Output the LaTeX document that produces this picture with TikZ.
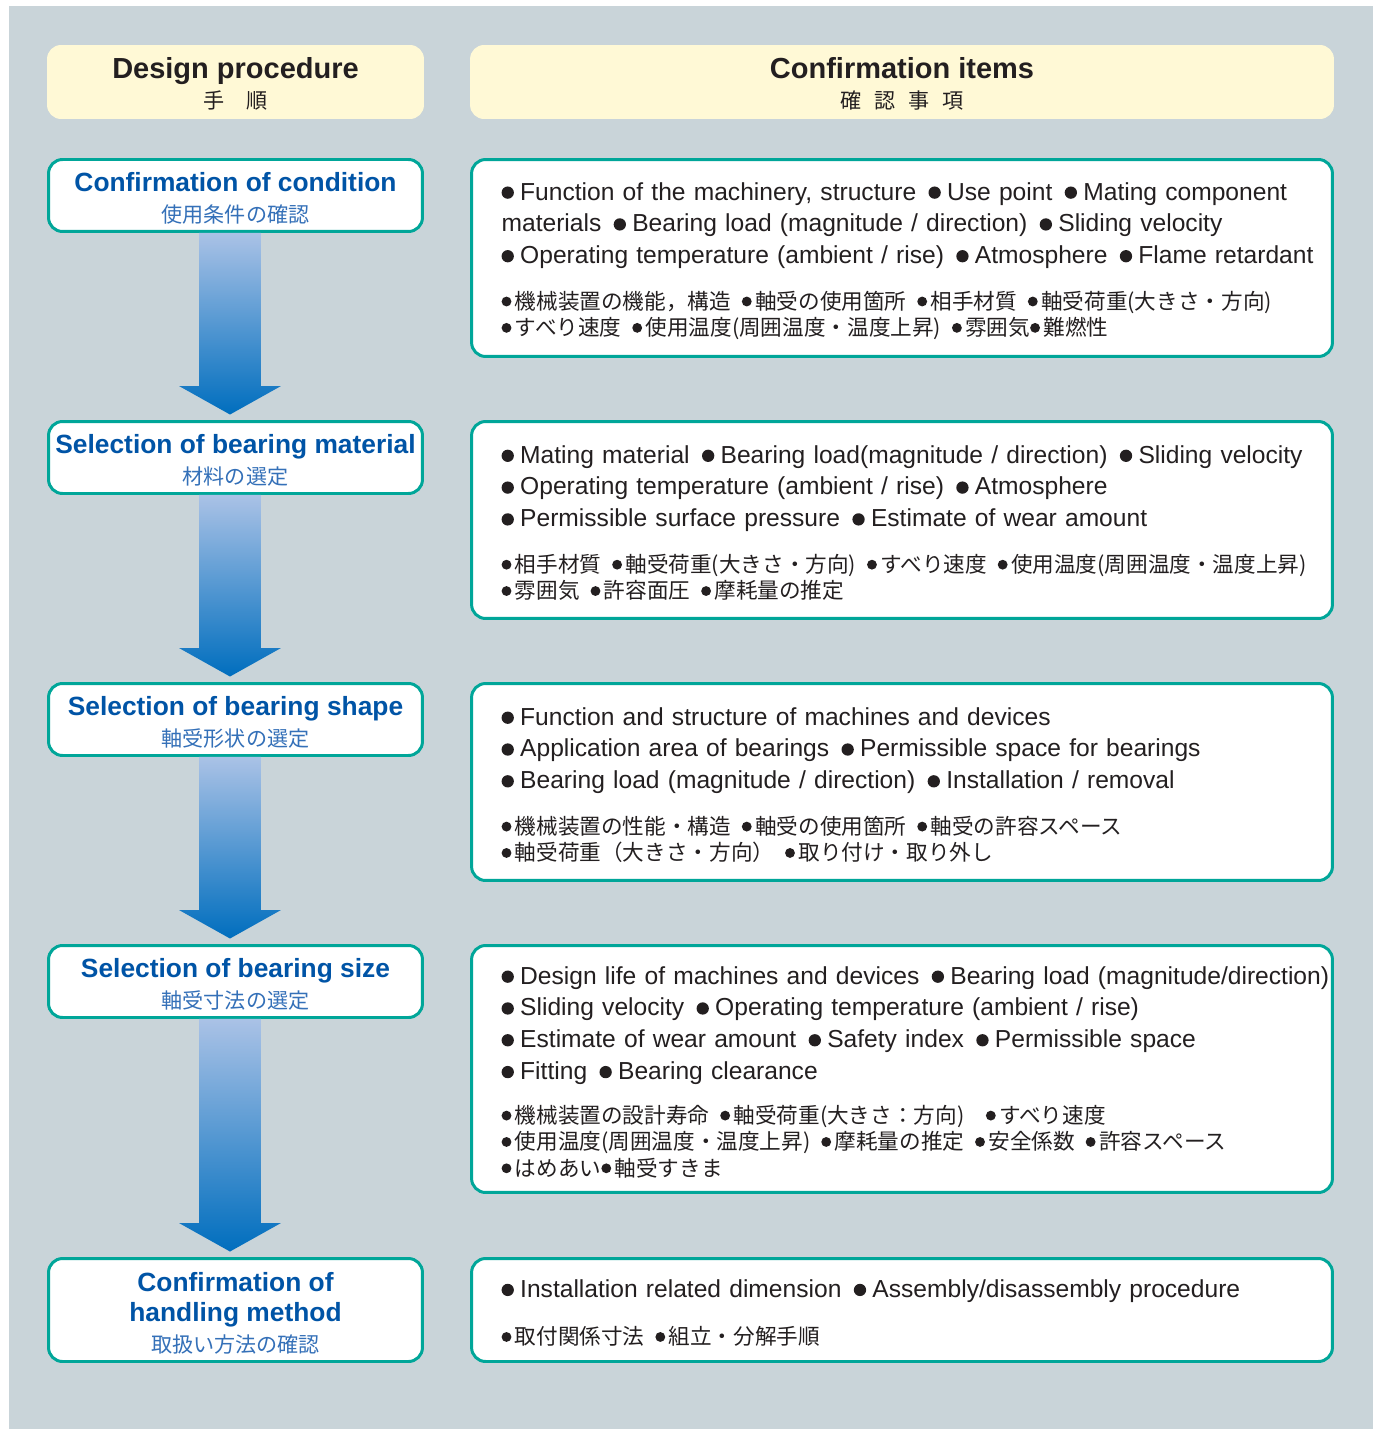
\documentclass[tikz,border=0pt]{standalone}
\usepackage{fontspec}
\setmainfont{Liberation Sans}
\newfontfamily\jpfont{Noto Sans CJK JP}
\usetikzlibrary{calc}

\definecolor{panelgray}{RGB}{201,212,217}
\definecolor{headyellow}{RGB}{255,249,214}
\definecolor{frameteal}{RGB}{0,166,153}
\definecolor{titleblue}{RGB}{0,84,166}
\definecolor{subblue}{RGB}{52,112,184}
\definecolor{arrowtop}{RGB}{170,194,230}
\definecolor{arrowbot}{RGB}{0,110,190}
\definecolor{inkgray}{RGB}{35,31,32}

% bullets for the english and the japanese lines
\newcommand{\bul}{\tikz[baseline=-0.3em]\fill[inkgray] (0,0) circle (3.5pt);\kern3.6pt}
\newcommand{\jbul}{\tikz[baseline=-0.36em]\fill[inkgray] (0,0) circle (2.8pt);\kern2pt}
\newcommand{\jpline}{\jpfont\fontsize{12.3}{15}\selectfont}
% strut that drops a title line a little
\newcommand{\tstrut}{\rule{0pt}{14.5pt}}
\newcommand{\subline}[1]{{\jpfont\mdseries\color{subblue}\fontsize{12}{17.5}\selectfont #1}}

\begin{document}
\begin{tikzpicture}[
    x=0.02cm, y=-0.02cm, % one unit is one pixel of the layout
    hdrbox/.style={fill=headyellow, rounded corners=0.28cm, minimum height=1.48cm,
        align=center, text=inkgray, font=\bfseries\fontsize{16.5}{17.5}\selectfont},
    procbox/.style={draw=frameteal, line width=1.7pt, fill=white, rounded corners=0.28cm,
        minimum width=7.48cm, minimum height=1.44cm, align=center, text=titleblue,
        font=\bfseries\fontsize{15}{17.5}\selectfont},
    itembox/.style={draw=frameteal, line width=1.7pt, fill=white, rounded corners=0.28cm,
        text width=17.22cm, inner xsep=0pt, align=left, text=inkgray, text height=13.6pt,
        font=\fontsize{14}{18.1}\selectfont,
        execute at begin node={\leftskip=0.6cm\relax}},
    flowarrow/.style={top color=arrowtop, bottom color=arrowbot}
]

    % === Panel ===
    \useasboundingbox (0,0) rectangle (1375,1429);
    \fill[panelgray] (9,6) rectangle (1373,1429);

    % === Headers ===
    \node[hdrbox, minimum width=7.54cm] (hproc) at (235.5,82)
        {\rule{0pt}{14pt}Design procedure\\{\jpfont\mdseries\fontsize{12}{17.5}\selectfont 手　順}};
    \node[hdrbox, minimum width=17.28cm] (hconf) at (902,82)
        {\rule{0pt}{14pt}Confirmation items\\{\jpfont\mdseries\fontsize{12}{17.5}\selectfont 確\hspace{0.6em}認\hspace{0.6em}事\hspace{0.6em}項}};

    % === Design procedure ===
    \node[procbox] (c1) at (235.5,195.5)
        {\tstrut Confirmation of condition\\\subline{使用条件の確認}};
    \node[procbox] (c2) at (235.5,457.5)
        {\tstrut Selection of bearing material\\\subline{材料の選定}};
    \node[procbox] (c3) at (235.5,719.5)
        {\tstrut Selection of bearing shape\\\subline{軸受形状の選定}};
    \node[procbox] (c4) at (235.5,981.5)
        {\tstrut Selection of bearing size\\\subline{軸受寸法の選定}};
    \node[procbox, minimum height=2.06cm] (c5) at (235.5,1310)
        {\tstrut Confirmation of\\handling method\\\subline{取扱い方法の確認}};

    % === Flow arrows ===
    \foreach \a/\b in {c1/c2, c2/c3, c3/c4, c4/c5}
        \shade[flowarrow] let \p1=(\a.south), \p2=(\b.north) in
            (\x1-0.73cm,\y1) -- (\x1+0.51cm,\y1) -- (\x1+0.51cm,\y2+0.68cm)
            -- (\x1+0.91cm,\y2+0.68cm) -- (\x1-0.11cm,\y2+0.11cm)
            -- (\x1-1.13cm,\y2+0.68cm) -- (\x1-0.73cm,\y2+0.68cm) -- cycle;

    % === Confirmation items ===
    \node[itembox, minimum height=3.94cm] (r1) at (902,258) {%
        \bul Function of the machinery, structure\enspace\bul Use point\enspace\bul Mating component\\
        materials\enspace\bul Bearing load (magnitude / direction)\enspace\bul Sliding velocity\\
        \bul Operating temperature (ambient / rise)\enspace\bul Atmosphere\enspace\bul Flame retardant\par
        \vspace{11pt}{\jpline
        \jbul 機械装置の機能，構造\enspace\jbul 軸受の使用箇所\enspace\jbul 相手材質\enspace\jbul 軸受荷重(大きさ・方向)\\
        \jbul すべり速度\enspace\jbul 使用温度(周囲温度・温度上昇)\enspace\jbul 雰囲気\jbul 難燃性\par}};

    \node[itembox, minimum height=3.94cm] (r2) at (902,520) {%
        \bul Mating material\enspace\bul Bearing load(magnitude / direction)\enspace\bul Sliding velocity\\
        \bul Operating temperature (ambient / rise)\enspace\bul Atmosphere\\
        \bul Permissible surface pressure\enspace\bul Estimate of wear amount\par
        \vspace{11pt}{\jpline
        \jbul 相手材質\enspace\jbul 軸受荷重(大きさ・方向)\enspace\jbul すべり速度\enspace\jbul 使用温度(周囲温度・温度上昇)\\
        \jbul 雰囲気\enspace\jbul 許容面圧\enspace\jbul 摩耗量の推定\par}};

    \node[itembox, minimum height=3.94cm] (r3) at (902,782) {%
        \bul Function and structure of machines and devices\\
        \bul Application area of bearings\enspace\bul Permissible space for bearings\\
        \bul Bearing load (magnitude / direction)\enspace\bul Installation / removal\par
        \vspace{11pt}{\jpline
        \jbul 機械装置の性能・構造\enspace\jbul 軸受の使用箇所\enspace\jbul 軸受の許容スペース\\
        \jbul 軸受荷重（大きさ・方向）\enspace\jbul 取り付け・取り外し\par}};

    \node[itembox, minimum height=4.94cm] (r4) at (902,1069) {%
        \bul Design life of machines and devices\enspace\bul Bearing load (magnitude/direction)\\
        \bul Sliding velocity\enspace\bul Operating temperature (ambient / rise)\\
        \bul Estimate of wear amount\enspace\bul Safety index\enspace\bul Permissible space\\
        \bul Fitting\enspace\bul Bearing clearance\par
        \vspace{10pt}{\jpline
        \jbul 機械装置の設計寿命\enspace\jbul 軸受荷重(大きさ：方向)\quad\jbul すべり速度\\
        \jbul 使用温度(周囲温度・温度上昇)\enspace\jbul 摩耗量の推定\enspace\jbul 安全係数\enspace\jbul 許容スペース\\
        \jbul はめあい\jbul 軸受すきま\par}};

    \node[itembox, minimum height=2.06cm] (r5) at (902,1310) {%
        \bul Installation related dimension\enspace\bul Assembly/disassembly procedure\par
        \vspace{12pt}{\jpline
        \jbul 取付関係寸法\enspace\jbul 組立・分解手順\par}};

\end{tikzpicture}
\end{document}
